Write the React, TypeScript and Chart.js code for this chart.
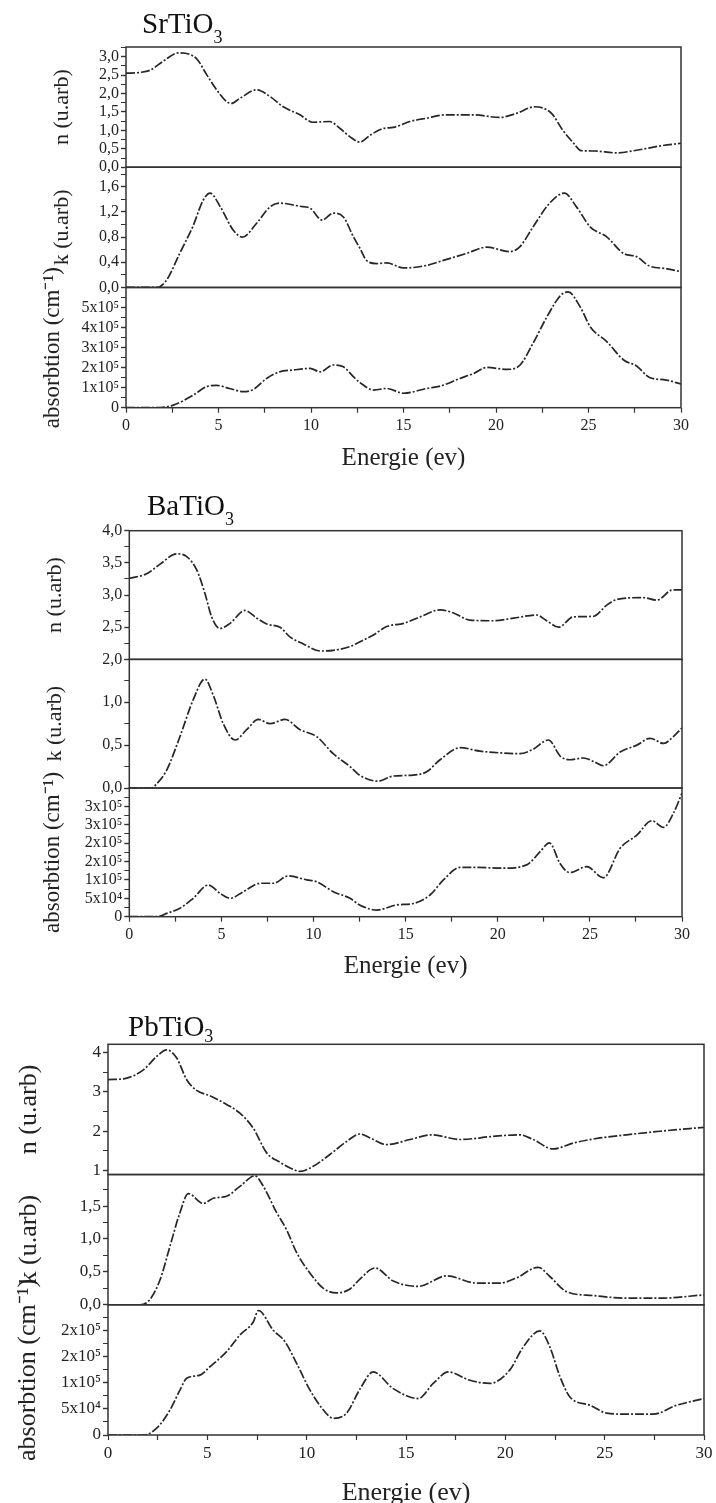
import React, { useEffect, useRef } from "react";
import { Chart, registerables } from "chart.js";
Chart.register(...registerables);

const SERIF = "'Liberation Serif', 'Times New Roman', Times, serif";
const INK = "#222";
const LINE = "#262626";

// ---------------- DATA ----------------
const X_LABELS = [0, 5, 10, 15, 20, 25, 30];

// SrTiO3
const SR_N_E = [0, 0.76, 1.3, 2.0, 2.83, 3.82, 4.36, 4.9, 5.44, 5.7, 6.16, 7.06, 7.78, 8.5, 9.4, 10.1, 11.0, 11.57, 12.1, 12.65, 13.2, 13.9, 14.45, 15.35, 16.25, 17.3, 18.8, 20.2, 21.1, 22.1, 23.0, 23.6, 24.2, 24.6, 25.3, 26.5, 27.6, 28.9, 30];
const SR_N = [2.55, 2.57, 2.63, 2.87, 3.1, 2.94, 2.51, 2.1, 1.78, 1.73, 1.87, 2.1, 1.92, 1.64, 1.42, 1.22, 1.24, 1.05, 0.83, 0.68, 0.87, 1.05, 1.08, 1.24, 1.33, 1.42, 1.42, 1.35, 1.46, 1.64, 1.46, 1.01, 0.65, 0.45, 0.44, 0.39, 0.46, 0.58, 0.65];
const SR_K_E = [0, 1.66, 2.2, 2.9, 3.6, 4.18, 4.54, 5.1, 5.8, 6.3, 7.06, 7.78, 8.3, 9.4, 9.95, 10.6, 11.2, 11.75, 12.3, 12.65, 13.0, 13.55, 14.1, 15.0, 16.25, 17.15, 18.4, 19.5, 20.75, 21.3, 22.0, 22.9, 23.7, 24.35, 25.1, 26.0, 26.9, 27.6, 28.3, 29.2, 30];
const SR_K = [0, 0, 0.12, 0.54, 0.96, 1.39, 1.5, 1.28, 0.91, 0.8, 1.02, 1.28, 1.34, 1.29, 1.26, 1.07, 1.18, 1.12, 0.8, 0.62, 0.43, 0.38, 0.39, 0.31, 0.35, 0.43, 0.54, 0.64, 0.57, 0.65, 0.96, 1.34, 1.5, 1.28, 0.96, 0.8, 0.54, 0.49, 0.34, 0.3, 0.25];
const SR_A_E = [0, 1.66, 2.56, 3.64, 4.36, 4.9, 5.6, 6.35, 6.9, 7.6, 8.3, 9.04, 9.95, 10.5, 11.2, 11.75, 12.3, 12.65, 13.4, 14.1, 15.0, 16.25, 17.0, 18.05, 18.8, 19.5, 20.6, 21.3, 22.0, 22.75, 23.5, 23.9, 24.55, 25.1, 26.0, 26.9, 27.6, 28.3, 29.2, 30];
const SR_A = [0, 0, 0.13e5, 0.63e5, 1.05e5, 1.11e5, 0.96e5, 0.8e5, 0.92e5, 1.46e5, 1.79e5, 1.88e5, 1.96e5, 1.79e5, 2.13e5, 2.04e5, 1.54e5, 1.25e5, 0.88e5, 0.96e5, 0.72e5, 0.96e5, 1.08e5, 1.46e5, 1.71e5, 2.01e5, 1.91e5, 2.13e5, 3.21e5, 4.53e5, 5.61e5, 5.78e5, 5.03e5, 4.03e5, 3.29e5, 2.38e5, 2.08e5, 1.51e5, 1.38e5, 1.18e5];

// BaTiO3
const BA_N_E = [0, 0.94, 1.67, 2.57, 3.1, 3.66, 4.1, 4.47, 4.92, 5.47, 6.28, 6.92, 7.46, 8.18, 8.72, 9.45, 10.35, 11.07, 11.98, 12.5, 13.25, 13.97, 14.9, 15.78, 16.87, 17.6, 18.5, 19.76, 20.85, 22.1, 22.66, 23.3, 24.1, 25.2, 25.9, 26.46, 27.9, 28.63, 29.5, 30];
const BA_N = [3.26, 3.33, 3.48, 3.64, 3.6, 3.39, 3.03, 2.66, 2.48, 2.56, 2.76, 2.64, 2.55, 2.5, 2.35, 2.24, 2.13, 2.14, 2.2, 2.27, 2.38, 2.51, 2.56, 2.66, 2.77, 2.72, 2.61, 2.6, 2.64, 2.69, 2.6, 2.5, 2.66, 2.67, 2.84, 2.93, 2.96, 2.92, 3.08, 3.08];
const BA_K_E = [0, 1.2, 1.49, 2.03, 2.75, 3.47, 4.1, 4.56, 5.1, 5.74, 6.37, 7.0, 7.64, 8.45, 9.27, 10.17, 11.07, 11.98, 12.5, 13.5, 14.33, 15.4, 16.14, 16.87, 17.95, 19.04, 20.13, 21.2, 21.9, 22.75, 23.4, 23.9, 24.65, 25.2, 25.73, 26.64, 27.55, 28.27, 29.0, 29.53, 30];
const BA_K = [0, 0, 0.05, 0.21, 0.6, 1.03, 1.27, 1.08, 0.75, 0.56, 0.68, 0.8, 0.75, 0.8, 0.68, 0.6, 0.4, 0.25, 0.15, 0.08, 0.14, 0.15, 0.19, 0.33, 0.47, 0.43, 0.41, 0.4, 0.45, 0.56, 0.37, 0.33, 0.35, 0.31, 0.26, 0.42, 0.5, 0.58, 0.52, 0.6, 0.7];
const BA_A_E = [0, 1.5, 2.03, 2.75, 3.47, 4.29, 4.92, 5.47, 6.19, 7.1, 7.82, 8.63, 9.63, 10.17, 11.07, 11.98, 12.5, 13.43, 14.52, 15.42, 16.32, 17.05, 17.95, 18.86, 20.3, 21.57, 22.3, 22.8, 23.38, 23.9, 24.83, 25.73, 26.64, 27.55, 28.36, 29.0, 29.53, 30];
const BA_A = [0, 0, 0.09e5, 0.23e5, 0.5e5, 0.86e5, 0.64e5, 0.5e5, 0.68e5, 0.91e5, 0.91e5, 1.11e5, 1.0e5, 0.95e5, 0.68e5, 0.5e5, 0.32e5, 0.18e5, 0.32e5, 0.36e5, 0.59e5, 1.0e5, 1.34e5, 1.34e5, 1.32e5, 1.41e5, 1.77e5, 2.01e5, 1.45e5, 1.2e5, 1.36e5, 1.06e5, 1.86e5, 2.22e5, 2.61e5, 2.43e5, 2.81e5, 3.36e5];

// PbTiO3
const PB_N_E = [0, 0.94, 1.78, 2.45, 2.95, 3.46, 3.96, 4.46, 5.13, 5.97, 6.64, 7.31, 7.99, 8.66, 9.33, 9.66, 10.33, 11.17, 12.01, 12.68, 13.19, 14.03, 15.2, 16.29, 17.72, 19.39, 20.73, 21.4, 22.41, 23.42, 24.76, 26.1, 27.78, 30];
const PB_N = [3.31, 3.35, 3.56, 3.9, 4.07, 3.86, 3.31, 3.04, 2.9, 2.68, 2.46, 2.08, 1.45, 1.21, 1.03, 0.98, 1.11, 1.41, 1.74, 1.93, 1.83, 1.66, 1.79, 1.91, 1.79, 1.87, 1.91, 1.79, 1.55, 1.7, 1.83, 1.91, 2.0, 2.1];
const PB_K_E = [0, 1.6, 2.11, 2.62, 3.12, 3.62, 4.04, 4.8, 5.3, 5.97, 6.64, 7.4, 7.82, 8.49, 8.99, 9.5, 10.17, 10.84, 11.51, 12.18, 12.68, 13.44, 14.36, 15.62, 17.05, 18.55, 19.73, 20.57, 21.66, 22.24, 23.08, 24.42, 26.1, 27.78, 30];
const PB_K = [0, 0, 0.08, 0.38, 0.89, 1.4, 1.69, 1.54, 1.62, 1.65, 1.8, 1.96, 1.8, 1.4, 1.14, 0.79, 0.48, 0.25, 0.18, 0.24, 0.39, 0.56, 0.36, 0.28, 0.44, 0.33, 0.33, 0.41, 0.57, 0.43, 0.2, 0.14, 0.1, 0.1, 0.15];
const PB_A_E = [0, 1.78, 2.45, 3.12, 3.62, 3.96, 4.63, 5.13, 5.97, 6.64, 7.31, 7.57, 8.32, 8.91, 9.5, 10.17, 10.84, 11.34, 12.01, 12.68, 13.35, 14.36, 15.62, 16.37, 17.13, 18.22, 19.22, 20.23, 20.9, 21.74, 22.24, 22.75, 23.25, 24.26, 25.1, 26.1, 27.44, 28.62, 30];
const PB_A = [0, 0, 0.13e5, 0.48e5, 0.86e5, 1.09e5, 1.15e5, 1.31e5, 1.6e5, 1.92e5, 2.17e5, 2.39e5, 2.01e5, 1.79e5, 1.37e5, 0.86e5, 0.48e5, 0.32e5, 0.42e5, 0.88e5, 1.21e5, 0.89e5, 0.7e5, 0.99e5, 1.21e5, 1.05e5, 0.99e5, 1.25e5, 1.69e5, 2.0e5, 1.69e5, 1.12e5, 0.73e5, 0.57e5, 0.42e5, 0.4e5, 0.4e5, 0.57e5, 0.7e5];

// major tick values (labelled)
const SR_N_TICKS = [0, 0.5, 1, 1.5, 2, 2.5, 3];
const SR_K_TICKS = [0, 0.4, 0.8, 1.2, 1.6];
const SR_A_TICKS = [0, 1e5, 2e5, 3e5, 4e5, 5e5];
const BA_N_TICKS = [2, 2.5, 3, 3.5, 4];
const BA_K_TICKS = [0, 0.5, 1];
const BA_A_TICKS = [0, 5e4, 1e5, 1.5e5, 2e5, 2.5e5, 3e5];
const PB_N_TICKS = [1, 2, 3, 4];
const PB_K_TICKS = [0, 0.5, 1, 1.5];
const PB_A_TICKS = [0, 5e4, 1e5, 1.5e5, 2e5];

// ---------------- helpers ----------------
const SUP = "⁰¹²³⁴⁵⁶⁷⁸⁹";
const sup = (n: number) => String(n).split("").map((c) => SUP[+c]).join("");
const fmtComma = (v: number) => v.toFixed(1).replace(".", ",");
const fmtInt = (v: number) => String(Math.round(v));
const fmtSci = (v: number) => {
  if (Math.abs(v) < 1e-9) return "0";
  const e = Math.floor(Math.log10(v) + 1e-9);
  return `${Math.round(v / Math.pow(10, e))}x10${sup(e)}`;
};
function stepTicks(min: number, max: number, step: number) {
  const out: { value: number }[] = [];
  const start = Math.ceil(min / step - 1e-9);
  for (let i = start; i * step <= max + step * 1e-6; i++) out.push({ value: +(i * step).toFixed(10) });
  return out;
}

interface Panel {
  id: string; label: string; labelSize: number; labelPad: number;
  min: number; max: number; minor: number; majors: number[];
  fmt: (v: number) => string; hideTop: boolean; xs: number[]; ys: number[];
}
interface Group {
  name: string; sub: string; titleLeft: number; titleBase: number; titleSize: number; subSize: number; subDrop: number;
  top: number; height: number; left: number; right: number; areaTop: number; areaBottom: number;
  xAxisH: number; xTitleSize: number; tickSize: number; xTickPad: number; panels: Panel[];
}

const GROUPS: Group[] = [
  {
    name: "SrTiO", sub: "3", titleLeft: 142, titleBase: 33, titleSize: 29, subSize: 18, subDrop: 10,
    top: 0, height: 475, left: 126, right: 681, areaTop: 47, areaBottom: 407.7,
    xAxisH: 66, xTitleSize: 25, tickSize: 16, xTickPad: 3,
    panels: [
      { id: "n", label: "n (u.arb)", labelSize: 22, labelPad: 48.8, min: 0, max: 3.26, minor: 0.25, majors: SR_N_TICKS, fmt: fmtComma, hideTop: false, xs: SR_N_E, ys: SR_N },
      { id: "k", label: "k (u.arb)", labelSize: 22, labelPad: 48.8, min: 0, max: 1.91, minor: 0.2, majors: SR_K_TICKS, fmt: fmtComma, hideTop: true, xs: SR_K_E, ys: SR_K },
      { id: "a", label: "absorbtion (cm⁻¹)", labelSize: 23, labelPad: 39.2, min: 0, max: 6e5, minor: 0.5e5, majors: SR_A_TICKS, fmt: fmtSci, hideTop: true, xs: SR_A_E, ys: SR_A },
    ],
  },
  {
    name: "BaTiO", sub: "3", titleLeft: 147, titleBase: 515, titleSize: 29, subSize: 18, subDrop: 10,
    top: 475, height: 510, left: 129.3, right: 682, areaTop: 530.7, areaBottom: 916.7,
    xAxisH: 65, xTitleSize: 25, tickSize: 16, xTickPad: 3,
    panels: [
      { id: "n", label: "n (u.arb)", labelSize: 22, labelPad: 41.8, min: 2, max: 4, minor: 0.25, majors: BA_N_TICKS, fmt: fmtComma, hideTop: false, xs: BA_N_E, ys: BA_N },
      { id: "k", label: "k (u.arb)", labelSize: 22, labelPad: 41.8, min: 0, max: 1.5, minor: 0.25, majors: BA_K_TICKS, fmt: fmtComma, hideTop: true, xs: BA_K_E, ys: BA_K },
      { id: "a", label: "absorbtion (cm⁻¹)", labelSize: 23, labelPad: 38.7, min: 0, max: 3.5e5, minor: 2.5e4, majors: BA_A_TICKS, fmt: fmtSci, hideTop: true, xs: BA_A_E, ys: BA_A },
    ],
  },
  {
    name: "PbTiO", sub: "3", titleLeft: 128, titleBase: 1036, titleSize: 29, subSize: 18, subDrop: 6,
    top: 985, height: 530, left: 108, right: 704, areaTop: 1044.3, areaBottom: 1435,
    xAxisH: 73.6, xTitleSize: 26, tickSize: 17, xTickPad: 3,
    panels: [
      { id: "n", label: "n (u.arb)", labelSize: 26, labelPad: 13.4, min: 0.9, max: 4.21, minor: 0.5, majors: PB_N_TICKS, fmt: fmtInt, hideTop: false, xs: PB_N_E, ys: PB_N },
      { id: "k", label: "k (u.arb)", labelSize: 26, labelPad: 13.4, min: 0, max: 1.98, minor: 0.25, majors: PB_K_TICKS, fmt: fmtComma, hideTop: true, xs: PB_K_E, ys: PB_K },
      { id: "a", label: "absorbtion (cm⁻¹)", labelSize: 26, labelPad: 12.4, min: 0, max: 2.5e5, minor: 2.5e4, majors: PB_A_TICKS, fmt: fmtSci, hideTop: true, xs: PB_A_E, ys: PB_A },
    ],
  },
];

const framePlugin = {
  id: "panelFrame",
  afterDatasetsDraw(chart: any) {
    const { ctx, chartArea } = chart;
    ctx.save();
    ctx.strokeStyle = "#333";
    ctx.lineWidth = 1.5;
    Object.values(chart.scales).forEach((s: any) => {
      if (s.axis === "y") ctx.strokeRect(chartArea.left, s.top, chartArea.right - chartArea.left, s.bottom - s.top);
    });
    ctx.restore();
  },
};

function buildConfig(g: Group): any {
  const scales: any = {
    x: {
      type: "linear", position: "bottom", min: 0, max: 30,
      afterBuildTicks: (s: any) => { s.ticks = stepTicks(0, 30, 2.5); },
      afterFit: (s: any) => { s.height = g.xAxisH; },
      ticks: {
        autoSkip: false, maxRotation: 0, minRotation: 0, padding: g.xTickPad, color: INK,
        font: { family: SERIF, size: g.tickSize },
        callback: (v: any) => (X_LABELS.some((l) => Math.abs(l - Number(v)) < 1e-6) ? String(Number(v)) : ""),
      },
      grid: { display: true, drawOnChartArea: false, drawTicks: true, tickLength: 5, tickColor: "#333", tickWidth: 1.2 },
      border: { display: false },
      title: { display: true, text: "Energie (ev)", color: INK, font: { family: SERIF, size: g.xTitleSize }, padding: 0 },
    },
  };
  g.panels.forEach((p, i) => {
    const isMajor = (v: number) => p.majors.some((m) => Math.abs(m - v) < p.minor * 1e-3);
    scales[p.id] = {
      type: "linear", position: "left", stack: "grp", stackWeight: 1, weight: g.panels.length - i,
      min: p.min, max: p.max,
      afterBuildTicks: (s: any) => { s.ticks = stepTicks(p.min, p.max, p.minor); },
      afterFit: (s: any) => { s.width = g.left; },
      ticks: {
        autoSkip: false, padding: 2, color: INK, font: { family: SERIF, size: g.tickSize },
        callback: (v: any) => {
          const n = Number(v);
          if (p.hideTop && Math.abs(n - p.max) < p.minor * 1e-3) return "";
          return isMajor(n) ? p.fmt(n) : "";
        },
      },
      grid: {
        display: true, drawOnChartArea: false, drawTicks: true, tickLength: 5, tickColor: "#333",
        tickWidth: (c: any) => (c.tick && isMajor(c.tick.value) ? 1.4 : 1),
      },
      border: { display: false },
      title: { display: true, text: p.label, color: INK, font: { family: SERIF, size: p.labelSize }, padding: { top: p.labelPad, bottom: 0 } },
    };
  });

  const datasets = g.panels.map((p) => ({
    data: p.xs.map((x, i) => ({ x, y: p.ys[i] })),
    xAxisID: "x",
    yAxisID: p.id,
    borderColor: LINE,
    borderWidth: 1.7,
    borderDash: [9, 2, 2, 2],
    pointRadius: 0,
    cubicInterpolationMode: "monotone",
    fill: false,
  }));

  return {
    type: "line",
    data: { datasets },
    options: {
      responsive: false,
      animation: false,
      devicePixelRatio: 1,
      layout: {
        padding: {
          left: 0,
          top: g.areaTop - g.top,
          right: 716 - g.right,
          bottom: g.height - (g.areaBottom - g.top) - g.xAxisH,
        },
      },
      plugins: { legend: { display: false }, tooltip: { enabled: false }, title: { display: false } },
      scales,
    },
    plugins: [framePlugin],
  };
}

function GroupChart({ g }: { g: Group }) {
  const ref = useRef<HTMLCanvasElement>(null);
  useEffect(() => {
    const c = ref.current;
    if (!c) return;
    const chart = new Chart(c, buildConfig(g));
    return () => chart.destroy();
  }, [g]);
  return (
    <canvas
      ref={ref}
      width={716}
      height={g.height}
      style={{ position: "absolute", left: 0, top: g.top, width: 716, height: g.height }}
    />
  );
}

function GroupTitle({ g }: { g: Group }) {
  const top = g.titleBase - g.titleSize * 0.836;
  return (
    <div
      style={{
        position: "absolute", left: g.titleLeft, top, fontFamily: SERIF, fontSize: g.titleSize,
        lineHeight: `${g.titleSize}px`, color: "#111", whiteSpace: "nowrap",
      }}
    >
      {g.name}
      <span style={{ fontSize: g.subSize, position: "relative", top: g.subDrop }}>{g.sub}</span>
    </div>
  );
}

export default function App() {
  return (
    <div style={{ position: "absolute", left: 0, top: 0, width: 716, height: 1503, overflow: "hidden", background: "#fff" }}>
      {GROUPS.map((g) => (
        <GroupChart key={g.name} g={g} />
      ))}
      {GROUPS.map((g) => (
        <GroupTitle key={"t" + g.name} g={g} />
      ))}
    </div>
  );
}
